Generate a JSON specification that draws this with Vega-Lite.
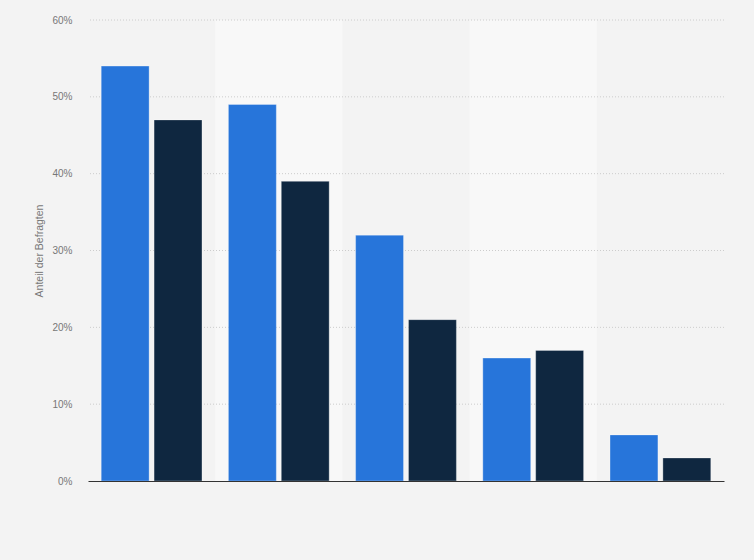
{
  "$schema": "https://vega.github.io/schema/vega-lite/v6.json",
  "width": 636,
  "height": 461,
  "autosize": {"type": "none"},
  "padding": {"left": 88, "top": 20, "right": 30, "bottom": 79},
  "background": "#f3f3f3",
  "config": {"view": {"stroke": null}, "font": "Liberation Sans"},
  "datasets": {
    "umfrage": [
      {"kategorie": "Kategorie 1", "gruppe": "Reihe 1", "anteil": 54},
      {"kategorie": "Kategorie 1", "gruppe": "Reihe 2", "anteil": 47},
      {"kategorie": "Kategorie 2", "gruppe": "Reihe 1", "anteil": 49},
      {"kategorie": "Kategorie 2", "gruppe": "Reihe 2", "anteil": 39},
      {"kategorie": "Kategorie 3", "gruppe": "Reihe 1", "anteil": 32},
      {"kategorie": "Kategorie 3", "gruppe": "Reihe 2", "anteil": 21},
      {"kategorie": "Kategorie 4", "gruppe": "Reihe 1", "anteil": 16},
      {"kategorie": "Kategorie 4", "gruppe": "Reihe 2", "anteil": 17},
      {"kategorie": "Kategorie 5", "gruppe": "Reihe 1", "anteil": 6},
      {"kategorie": "Kategorie 5", "gruppe": "Reihe 2", "anteil": 3}
    ],
    "baender": [
      {"kategorie": "Kategorie 2"},
      {"kategorie": "Kategorie 4"}
    ],
    "raster": [
      {"wert": 10}, {"wert": 20}, {"wert": 30}, {"wert": 40}, {"wert": 50}, {"wert": 60}
    ]
  },
  "layer": [
    {
      "data": {"name": "baender"},
      "mark": {"type": "rect", "color": "#f8f8f8"},
      "encoding": {
        "x": {
          "field": "kategorie", "type": "nominal",
          "scale": {"domain": ["Kategorie 1", "Kategorie 2", "Kategorie 3", "Kategorie 4", "Kategorie 5"], "paddingInner": 0, "paddingOuter": 0},
          "axis": {"labels": false, "ticks": false, "domain": true, "domainColor": "#333333", "domainWidth": 1, "title": null, "grid": false, "zindex": 1}
        },
        "y": {"datum": 60, "type": "quantitative"},
        "y2": {"datum": 0}
      }
    },
    {
      "data": {"name": "raster"},
      "mark": {"type": "rule", "color": "#cccccc", "strokeDash": [1, 2], "strokeWidth": 1},
      "encoding": {
        "y": {"field": "wert", "type": "quantitative"}
      }
    },
    {
      "data": {"name": "umfrage"},
      "mark": {"type": "bar", "stroke": "#ffffff", "strokeOpacity": 0.3, "strokeWidth": 1},
      "encoding": {
        "x": {
          "field": "kategorie", "type": "nominal",
          "axis": {"labels": false, "ticks": false, "domain": true, "domainColor": "#333333", "domainWidth": 1, "title": null, "grid": false, "zindex": 1}
        },
        "xOffset": {
          "field": "gruppe", "type": "nominal",
          "scale": {"paddingInner": 0.094, "paddingOuter": 0.25}
        },
        "y": {
          "field": "anteil", "type": "quantitative",
          "scale": {"domain": [0, 60]},
          "axis": {
            "values": [0, 10, 20, 30, 40, 50, 60],
            "labelExpr": "datum.value + '%'",
            "grid": false,
            "domain": false,
            "ticks": false,
            "labelPadding": 16,
            "labelColor": "#777777",
            "labelFontSize": 10,
            "title": "Anteil der Befragten",
            "titleFontSize": 10.5,
            "titleFontWeight": "normal",
            "titleColor": "#777777",
            "titlePadding": 7
          }
        },
        "color": {
          "field": "gruppe", "type": "nominal",
          "scale": {"range": ["#2775da", "#0f2740"]},
          "legend": null
        }
      }
    }
  ]
}
